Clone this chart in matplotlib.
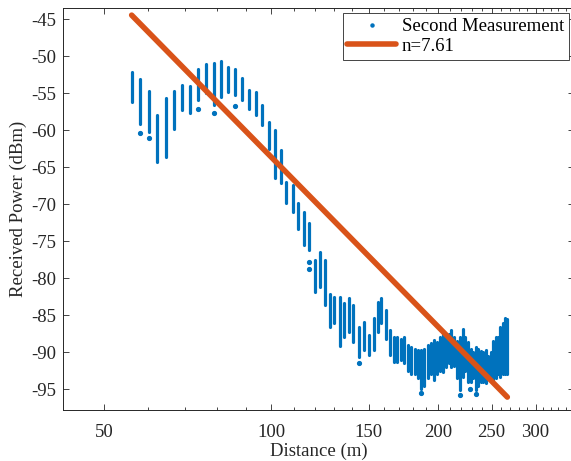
import numpy as np
import matplotlib
matplotlib.use("Agg")
import matplotlib.pyplot as plt
from matplotlib.ticker import FixedLocator, NullFormatter

plt.rcParams['font.family'] = ['Liberation Serif', 'DejaVu Serif']
plt.rcParams['axes.unicode_minus'] = False

# ---- data: measurement columns (distance, min power, max power) ----
col_dist = [56.1, 58.0, 60.2, 62.3, 64.6, 66.8, 69.0, 71.5, 73.9, 76.3, 78.8, 81.2,
            83.6, 86.1, 88.7, 91.1, 93.7, 96.3, 99.0, 101.5, 104.0, 106.4, 109.3,
            111.7, 114.4, 117.1, 119.8, 122.6, 125.2, 127.8, 130.0, 132.9, 135.5,
            138.2, 140.5, 143.8, 146.9, 150.0, 153.1, 155.7, 158.0, 161.3, 164.0,
            166.5, 169.0, 171.5, 174.0, 176.5, 179.0, 181.5, 184.0, 186.5, 189.0,
            191.5, 194.0, 196.5, 199.0, 201.5, 204.0, 206.5, 209.0, 211.5, 214.0,
            216.5, 219.0, 221.5, 224.0, 226.5, 229.0, 231.5, 234.0, 236.5, 239.0,
            241.5, 244.0, 246.5, 249.0, 251.5, 254.0, 256.5, 259.0, 261.5, 264.0, 266.5]
col_high = [-52.1, -53.1, -54.7, -58.0, -55.7, -54.7, -53.9, -54.1, -51.7, -51.1, -50.9, -50.6,
            -51.4, -51.7, -52.9, -54.6, -54.8, -56.6, -58.9, -60.0, -62.7, -67.0, -67.4,
            -69.9, -71.0, -72.6, -77.6, -76.4, -77.6, -82.1, -82.5, -82.5, -83.4,
            -82.7, -83.6, -86.6, -85.9, -87.7, -85.4, -83.2, -82.7, -84.3, -87.0,
            -87.9, -87.9, -88.2, -88.0, -89.0, -89.3, -89.5, -89.7, -89.7, -89.5,
            -89.0, -88.8, -88.4, -88.6, -88.0, -87.3, -87.8, -87.5, -87.0, -88.0,
            -88.5, -87.9, -86.8, -88.0, -88.6, -89.5, -90.0, -89.3, -89.5, -89.8,
            -90.0, -89.7, -90.5, -90.0, -88.5, -87.9, -88.0, -86.6, -86.0, -85.4, -85.5]
col_low = [-56.2, -59.1, -60.2, -64.3, -63.6, -59.9, -57.3, -57.7, -55.9, -55.0, -56.6, -55.5,
           -54.8, -55.3, -55.9, -57.1, -58.0, -59.3, -62.5, -66.5, -67.2, -69.9, -71.0,
           -73.3, -75.5, -76.2, -81.9, -81.2, -83.6, -86.6, -86.1, -89.1, -87.9,
           -87.3, -88.6, -90.6, -89.7, -90.4, -89.7, -87.3, -86.1, -88.2, -90.4,
           -91.3, -91.3, -91.0, -91.5, -92.5, -92.9, -93.0, -93.5, -94.9, -94.5,
           -93.5, -93.0, -93.8, -93.0, -92.5, -92.7, -92.0, -91.5, -92.0, -91.8,
           -93.5, -95.1, -93.4, -92.5, -94.0, -94.0, -93.5, -95.1, -94.5, -94.0,
           -94.0, -94.2, -93.5, -93.8, -93.8, -93.5, -93.0, -93.3, -93.0, -92.9, -93.0]

# isolated measurement points
pt_dist = [58.0, 60.2, 73.9, 78.8, 86.1, 117.1, 117.1, 143.8, 186.5, 219.0, 234.0, 228.0]
pt_power = [-60.4, -61.1, -57.1, -57.7, -56.8, -77.8, -78.7, -91.5, -95.5, -95.8, -95.6, -95.0]

# path-loss fit
n_exp = 7.61
fit_d0 = 56.0
fit_p0 = -44.46
fit_dist = [56.0, 266.8]

x_major = [50, 100, 150, 200, 250, 300]
x_minor = list(range(50, 360, 10))
y_ticks = [-95, -90, -85, -80, -75, -70, -65, -60, -55, -50, -45]

blue = '#0072BD'
orange = '#D95319'
dark = '#262626'
fs = 13.5

fig = plt.figure(figsize=(5.71, 4.61), dpi=100)
ax = fig.add_axes([0.1103, 0.1106, 0.895, 0.872])

ax.set_xscale('log')
vl = ax.vlines(col_dist, col_low, col_high, colors=blue, linewidth=2.3)
vl.set_capstyle('round')
ax.plot(pt_dist, pt_power, '.', color=blue, markersize=5.5, label='Second Measurement')

fd = np.array(fit_dist)
fp = fit_p0 - 10 * n_exp * np.log10(fd / fit_d0)
ax.plot(fd, fp, '-', color=orange, linewidth=4, solid_capstyle='round', label='n=7.61')

ax.set_xlim(42.1, 352)
ax.set_ylim(-97.8, -43.5)
ax.xaxis.set_major_locator(FixedLocator(x_major))
ax.xaxis.set_minor_locator(FixedLocator(x_minor))
ax.xaxis.set_minor_formatter(NullFormatter())
ax.set_xticklabels([str(v) for v in x_major])
ax.set_yticks(y_ticks)
ax.set_yticklabels([str(v) for v in y_ticks])

ax.tick_params(which='both', direction='in', top=True, right=True, colors=dark,
               labelcolor=dark, labelsize=fs)
ax.tick_params(axis='x', which='major', pad=10)
ax.tick_params(axis='y', which='major', pad=5)
ax.tick_params(which='major', length=4, width=0.6)
ax.tick_params(which='minor', length=2.5, width=0.6)
for s in ax.spines.values():
    s.set_color(dark)
    s.set_linewidth(0.7)

ax.set_xlabel('Distance (m)', fontsize=fs, color=dark, labelpad=1)
ax.set_ylabel('Received Power (dBm)', fontsize=fs, color=dark, labelpad=3)

leg = ax.legend(loc='upper right', bbox_to_anchor=(1.0, 1.0), fontsize=fs, frameon=True,
                fancybox=False, edgecolor=dark, framealpha=1, handlelength=2.6,
                borderaxespad=0.28, borderpad=0.25, labelspacing=0.15, handletextpad=0.3,
                markerscale=0.8)
leg.get_frame().set_linewidth(0.6)

fig.savefig('out.png', dpi=100)
